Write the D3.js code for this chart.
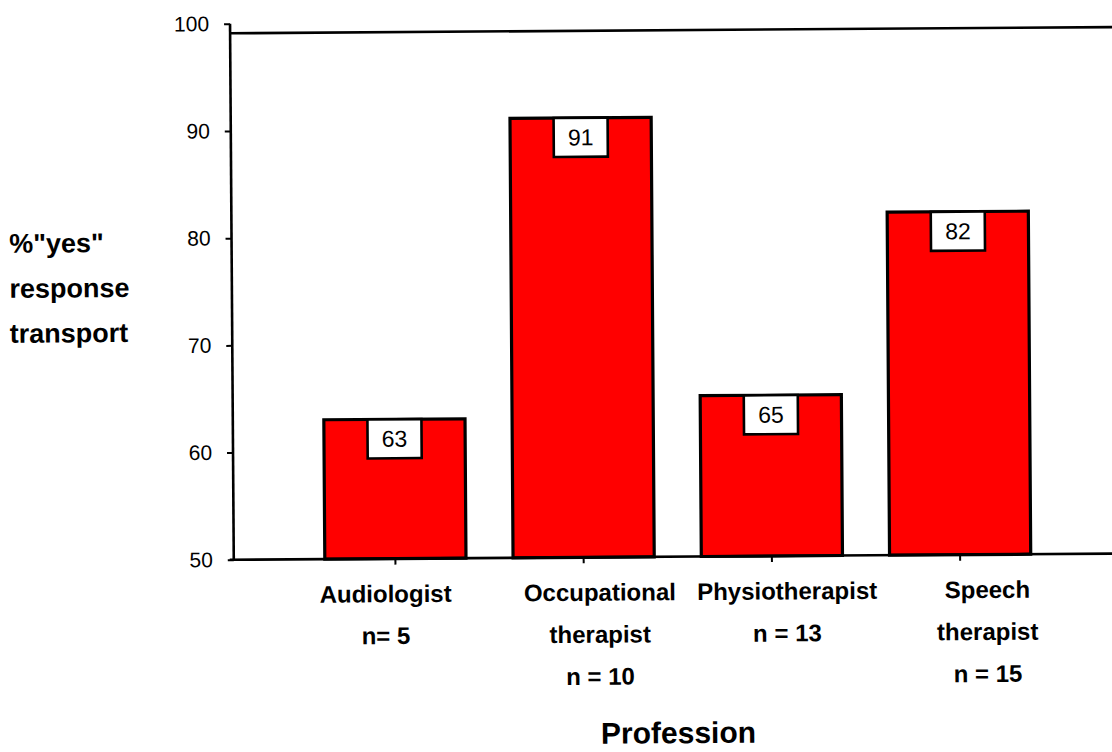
<!DOCTYPE html>
<html>
<head>
<meta charset="utf-8">
<script src="https://cdn.jsdelivr.net/npm/d3@7"></script>
<style>
  html, body { margin: 0; padding: 0; background: #fff; }
  svg { display: block; font-family: "Liberation Sans", Arial, sans-serif; }
</style>
</head>
<body>
<svg id="chart" width="1112" height="752"></svg>
<script>
// Share of "yes" responses about transport, by profession
const professions = ["Audiologist", "Occupational therapist", "Physiotherapist", "Speech therapist"];
const yesPercent = [63, 91, 65, 82];
const sampleSizes = [5, 10, 13, 15];
const categoryLabelLines = [
  ["Audiologist", "n= 5"],
  ["Occupational", "therapist", "n = 10"],
  ["Physiotherapist", "n = 13"],
  ["Speech", "therapist", "n = 15"]
];
const yTicks = [50, 60, 70, 80, 90, 100];
const yTitleLines = ['%"yes"', "response", "transport"];
const xTitle = "Profession";

// layout
const W = 1112, H = 752;
const axisX = 232.5, baseY = 557.5, topY = 21.5, frameTop = 31, rightEdge = 1125;
const labelNudge = [-10, 16, 15, 27];

const svg = d3.select("#chart");
const g = svg.append("g").attr("transform", `rotate(-0.4, ${W / 2}, ${H / 2})`);

const x = d3.scaleBand()
  .domain(professions)
  .range([300, 1053])
  .paddingInner(0.25)
  .paddingOuter(0.125);

const y = d3.scaleLinear().domain([50, 100]).range([baseY, topY]);

// upper frame line
g.append("line")
  .attr("x1", axisX).attr("x2", rightEdge)
  .attr("y1", frameTop).attr("y2", frameTop)
  .attr("stroke", "#000").attr("stroke-width", 2.6);

// bars
const data = professions.map((p, i) => ({ p, v: yesPercent[i], n: sampleSizes[i], i }));

g.selectAll("rect.bar")
  .data(data)
  .join("rect")
  .attr("class", "bar")
  .attr("x", d => x(d.p))
  .attr("y", d => y(d.v))
  .attr("width", x.bandwidth())
  .attr("height", d => baseY - y(d.v))
  .attr("fill", "#ff0000")
  .attr("stroke", "#000")
  .attr("stroke-width", 3.2);

// value boxes at the top of each bar
const boxW = 54, boxH = 39;
const vl = g.selectAll("g.vlabel")
  .data(data)
  .join("g")
  .attr("class", "vlabel")
  .attr("transform", d => `translate(${x(d.p) + x.bandwidth() / 2}, ${y(d.v)})`);
vl.append("rect")
  .attr("x", -boxW / 2).attr("y", 0)
  .attr("width", boxW).attr("height", boxH)
  .attr("fill", "#fff").attr("stroke", "#000").attr("stroke-width", 2.6);
vl.append("text")
  .attr("text-anchor", "middle")
  .attr("y", boxH / 2 + 8)
  .attr("font-size", 23)
  .text(d => d.v);

// y axis
const yAxis = d3.axisLeft(y).tickValues(yTicks).tickSize(6).tickPadding(15);
const ya = g.append("g").attr("transform", `translate(${axisX},0)`).call(yAxis);
ya.select(".domain").attr("stroke", "#000").attr("stroke-width", 2.6)
  .attr("d", `M0,${topY}V${baseY + 1}`);
ya.selectAll(".tick line").attr("stroke", "#000").attr("stroke-width", 2);
ya.selectAll(".tick text").attr("font-size", 21).attr("fill", "#000")
  .attr("font-family", "'Liberation Sans', Arial, sans-serif");

// x axis
const xAxis = d3.axisBottom(x).tickSize(6).tickFormat("");
const xa = g.append("g").attr("transform", `translate(0,${baseY})`).call(xAxis);
xa.select(".domain").attr("stroke", "#000").attr("stroke-width", 2.6)
  .attr("d", `M${axisX - 4},0H${rightEdge}`);
xa.selectAll(".tick line").attr("stroke", "#000").attr("stroke-width", 2);

// category labels
const cl = g.selectAll("text.cat")
  .data(data)
  .join("text")
  .attr("class", "cat")
  .attr("text-anchor", "middle")
  .attr("font-size", 24)
  .attr("font-weight", "bold")
  .attr("transform", d => `translate(${x(d.p) + x.bandwidth() / 2 + labelNudge[d.i]}, 601)`);
cl.selectAll("tspan")
  .data(d => categoryLabelLines[d.i])
  .join("tspan")
  .attr("x", 0)
  .attr("y", (t, j) => j * 42)
  .text(t => t);

// axis titles
g.append("text")
  .attr("font-size", 27).attr("font-weight", "bold")
  .selectAll("tspan")
  .data(yTitleLines)
  .join("tspan")
  .attr("x", 10)
  .attr("y", (t, j) => 249 + j * 45)
  .text(t => t);

g.append("text")
  .attr("x", 676).attr("y", 744)
  .attr("text-anchor", "middle")
  .attr("font-size", 30).attr("font-weight", "bold")
  .text(xTitle);
</script>
</body>
</html>
